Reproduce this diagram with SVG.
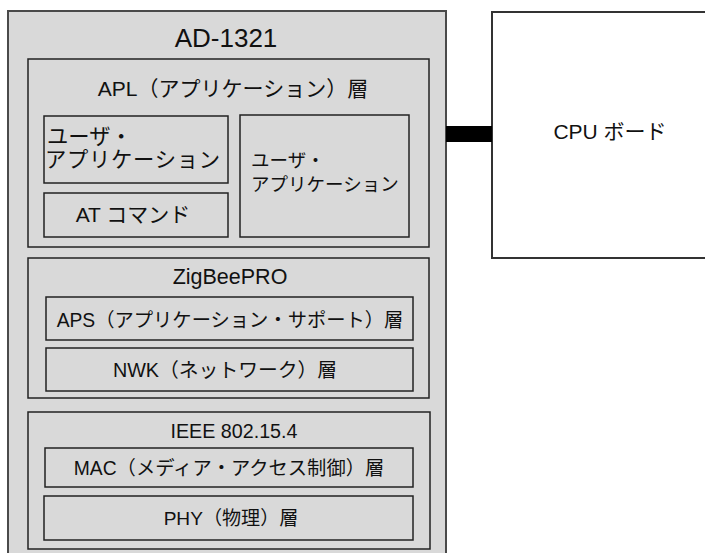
<svg xmlns="http://www.w3.org/2000/svg" width="705" height="553" viewBox="0 0 705 553">
<style>
.box{fill:#d9d9d9;stroke:#222;stroke-width:1.5}
.outer{fill:#d9d9d9;stroke:#4a4a4a;stroke-width:2}
.cpu{fill:#fff;stroke:#333;stroke-width:2}
text{font-family:"Liberation Sans","Noto Sans CJK JP",sans-serif;fill:#111}
.c{text-anchor:middle}
</style>
<rect width="705" height="553" fill="#fff"/>
<g id="ad1321">
<rect class="outer" x="8" y="11" width="438" height="560"/>
<text class="c" x="226" y="47" font-size="26">AD-1321</text>
</g>
<g id="apl">
<rect class="box" x="28" y="59" width="401" height="188"/>
<text class="c" x="233" y="96" font-size="21">APL（アプリケーション）層</text>
</g>
<g id="userapp1">
<rect class="box" x="44" y="116" width="184" height="67"/>
<text x="47" y="144" font-size="21.3">ユーザ・</text>
<text x="45" y="167" font-size="21.3" textLength="175" lengthAdjust="spacing">アプリケーション</text>
</g>
<g id="atcmd">
<rect class="box" x="44" y="193" width="184" height="44"/>
<text class="c" x="133" y="222" font-size="21">AT コマンド</text>
</g>
<g id="userapp2">
<rect class="box" x="240" y="115" width="169" height="122"/>
<text x="251" y="167" font-size="18.5">ユーザ・</text>
<text x="251" y="191" font-size="18.5">アプリケーション</text>
</g>
<g id="zigbee">
<rect class="box" x="28" y="258" width="401" height="140"/>
<text class="c" x="230" y="284" font-size="21.5">ZigBeePRO</text>
</g>
<g id="aps">
<rect class="box" x="46" y="297" width="367" height="43"/>
<text class="c" x="230" y="327" font-size="19.3">APS（アプリケーション・サポート）層</text>
</g>
<g id="nwk">
<rect class="box" x="46" y="348" width="367" height="43"/>
<text class="c" x="225" y="377" font-size="19.8">NWK（ネットワーク）層</text>
</g>
<g id="ieee">
<rect class="box" x="28" y="412" width="402" height="137"/>
<text class="c" x="234" y="438" font-size="19.7">IEEE 802.15.4</text>
</g>
<g id="mac">
<rect class="box" x="45" y="448" width="368" height="39"/>
<text class="c" x="229" y="475" font-size="19.3">MAC（メディア・アクセス制御）層</text>
</g>
<g id="phy">
<rect class="box" x="44" y="496" width="369" height="44"/>
<text class="c" x="231" y="525" font-size="19.1">PHY（物理）層</text>
</g>
<g id="cpu">
<rect class="cpu" x="492" y="12" width="230" height="246"/>
<text class="c" x="610" y="139" font-size="21">CPU ボード</text>
</g>
<g id="connectors">
<rect x="446" y="126" width="46" height="16" fill="#000"/>
</g>
</svg>
